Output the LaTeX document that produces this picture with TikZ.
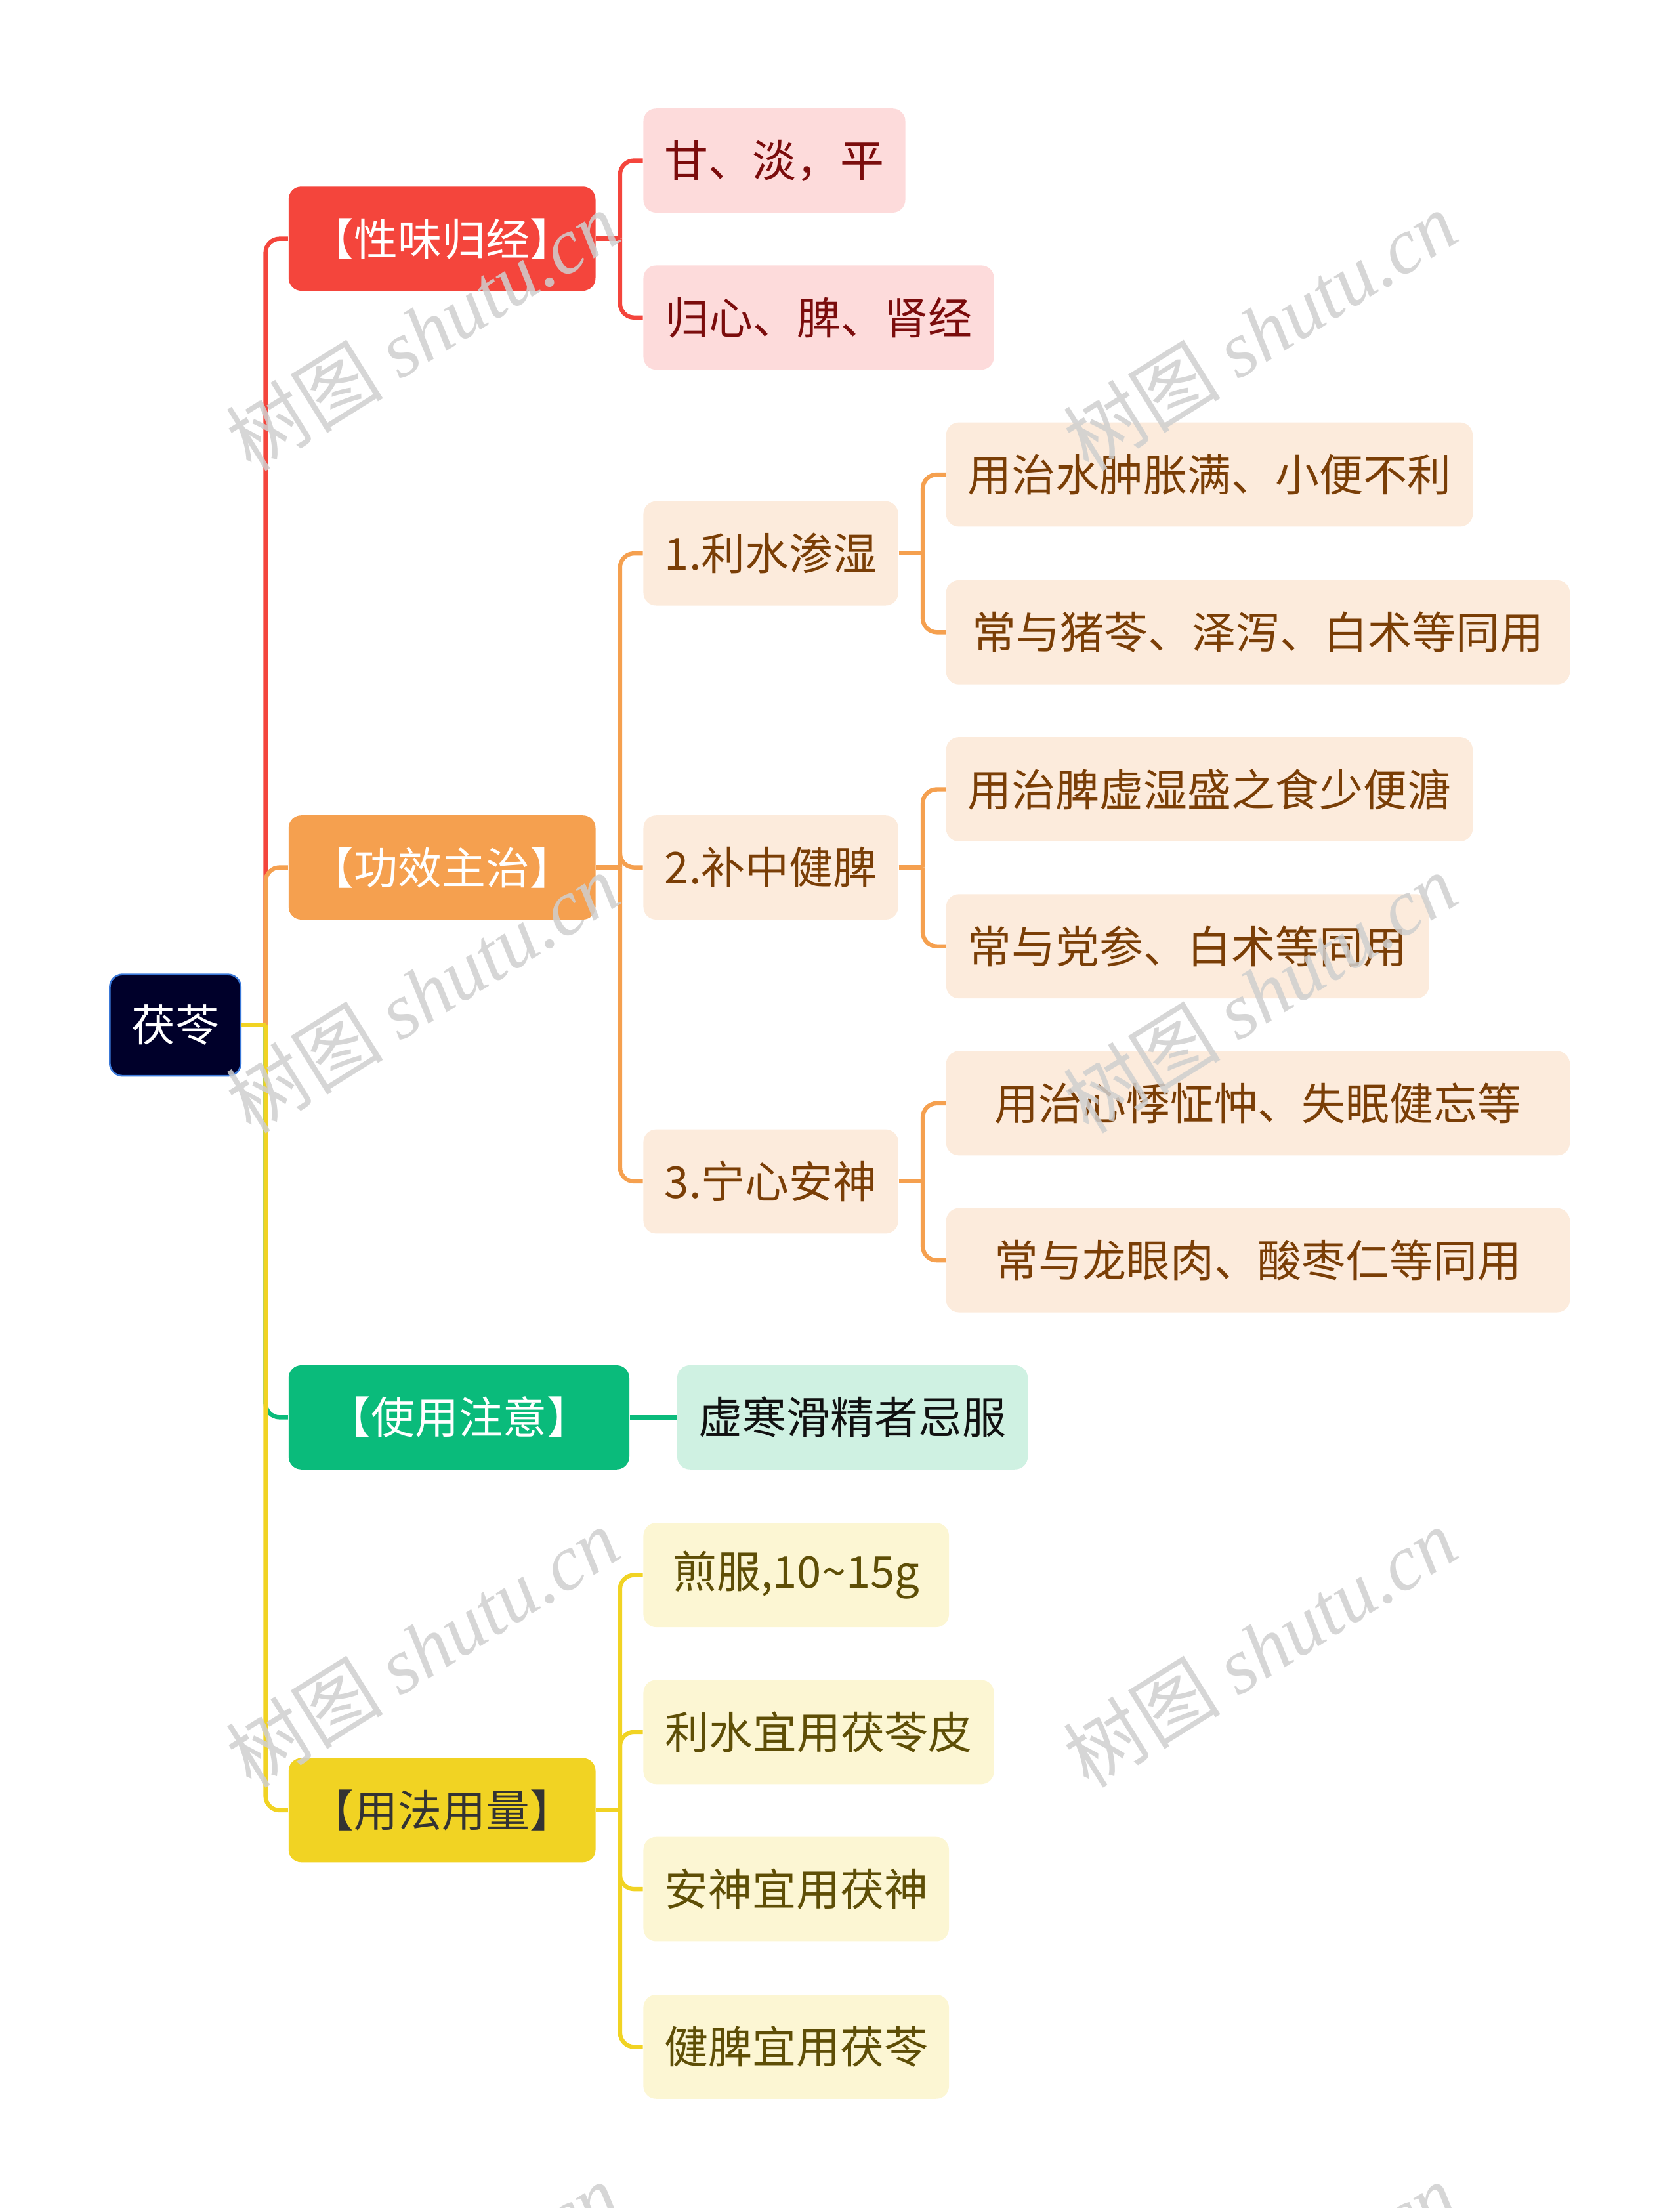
\documentclass[tikz,border=0pt]{standalone}
\usepackage{fontspec}
\setmainfont{Noto Sans CJK SC}
\newfontfamily\wmlatin{Liberation Serif}
\definecolor{rootfill}{HTML}{00002A}
\definecolor{rootdraw}{HTML}{3A78D8}
\definecolor{cred}{HTML}{F4453C}
\definecolor{credl}{HTML}{FDDBDB}
\definecolor{credt}{HTML}{7B0C0C}
\definecolor{cor}{HTML}{F5A04F}
\definecolor{corl}{HTML}{FCEBDC}
\definecolor{cort}{HTML}{7A3E06}
\definecolor{cgr}{HTML}{0ABB7B}
\definecolor{cgrl}{HTML}{CFF1E2}
\definecolor{cgrt}{HTML}{111111}
\definecolor{cye}{HTML}{F1D323}
\definecolor{cyel}{HTML}{FCF6D3}
\definecolor{cyet}{HTML}{5E4E06}
\definecolor{wmgray}{HTML}{CFCFCF}
\tikzset{
  x=0.5pt, y=-0.5pt,
  bw/.style={minimum width=#1*0.5pt},
  base/.style={rounded corners=4.5pt, minimum height=37pt, inner sep=0pt,
    font=\fontsize{15.6}{18}\selectfont, anchor=center},
  rootbox/.style={base, fill=rootfill, draw=rootdraw, line width=0.6pt, text=white,
    minimum width=46.5pt, minimum height=36pt, font=\fontsize{15.5}{18}\selectfont},
  l1red/.style={base, fill=cred, text=white},
  l2red/.style={base, fill=credl, text=credt},
  l1or/.style={base, fill=cor, text=white},
  l2or/.style={base, fill=corl, text=cort},
  l1gr/.style={base, fill=cgr, text=white},
  l2gr/.style={base, fill=cgrl, text=cgrt},
  l1ye/.style={base, fill=cye, text=black!80},
  l2ye/.style={base, fill=cyel, text=cyet},
  conn/.style={line width=1.5pt, rounded corners=5pt},
  wm/.style={text=wmgray, opacity=0.85, rotate=32, inner sep=0pt,
    font=\fontsize{28}{30}\selectfont},
}
\begin{document}
\begin{tikzpicture}
\useasboundingbox (0,0) rectangle (1193,1568);
\clip (0,0) rectangle (1193,1568);

% nodes
\node[rootbox] (root) at (124.5,728) {茯苓};
\node[l1red, bw=218] (r1) at (314,169.5) {【性味归经】};
\node[l2red, bw=186] (r1a) at (550,114) {甘、淡，平};
\node[l2red, bw=249] (r1b) at (581.5,225.5) {归心、脾、肾经};
\node[l1or, bw=218] (o1) at (314,616) {【功效主治】};
\node[l2or, bw=181] (o2a) at (547.5,393) {1.利水渗湿};
\node[l2or, bw=181] (o2b) at (547.5,616) {2.补中健脾};
\node[l2or, bw=181] (o2c) at (547.5,839) {3.宁心安神};
\node[l2or, bw=374] (o3a) at (859,337) {用治水肿胀满、小便不利};
\node[l2or, bw=443] (o3b) at (893.5,449) {常与猪苓、泽泻、白术等同用};
\node[l2or, bw=374] (o3c) at (859,560.5) {用治脾虚湿盛之食少便溏};
\node[l2or, bw=343] (o3d) at (843.5,672) {常与党参、白术等同用};
\node[l2or, bw=443] (o3e) at (893.5,783.5) {用治心悸怔忡、失眠健忘等};
\node[l2or, bw=443] (o3f) at (893.5,895) {常与龙眼肉、酸枣仁等同用};
\node[l1gr, bw=242] (g1) at (326,1006.5) {【使用注意】};
\node[l2gr, bw=249] (g2) at (605.5,1006.5) {虚寒滑精者忌服};
\node[l1ye, bw=218] (y1) at (314,1285.5) {【用法用量】};
\node[l2ye, bw=217] (y2a) at (565.5,1118.5) {煎服,10{\char"7E}15g};
\node[l2ye, bw=249] (y2b) at (581.5,1230) {利水宜用茯苓皮};
\node[l2ye, bw=217] (y2c) at (565.5,1341.5) {安神宜用茯神};
\node[l2ye, bw=217] (y2d) at (565.5,1453.5) {健脾宜用茯苓};

% junction coordinates
\coordinate (j0) at ([xshift=8.5pt]root.east);
\coordinate (jr) at ([xshift=8.5pt]r1.east);
\coordinate (jo) at ([xshift=8.5pt]o1.east);
\coordinate (joa) at ([xshift=8.5pt]o2a.east);
\coordinate (job) at ([xshift=8.5pt]o2b.east);
\coordinate (joc) at ([xshift=8.5pt]o2c.east);
\coordinate (jy) at ([xshift=8.5pt]y1.east);

% root branches
\draw[conn, cred] (j0) |- (r1.west);
\draw[conn, cor] (j0) |- (o1.west);
\draw[conn, cgr] (j0) |- (g1.west);
\draw[conn, cye] (j0) |- (y1.west);
\draw[conn, cye] (root.east) -- (j0);

% red
\draw[conn, cred] (r1.east) -- (jr);
\draw[conn, cred] (jr) |- (r1a.west);
\draw[conn, cred] (jr) |- (r1b.west);

% orange
\draw[conn, cor] (o1.east) -- (jo);
\draw[conn, cor] (jo) |- (o2a.west);
\draw[conn, cor] (jo) |- (o2b.west);
\draw[conn, cor] (jo) |- (o2c.west);
\draw[conn, cor] (o2a.east) -- (joa);
\draw[conn, cor] (joa) |- (o3a.west);
\draw[conn, cor] (joa) |- (o3b.west);
\draw[conn, cor] (o2b.east) -- (job);
\draw[conn, cor] (job) |- (o3c.west);
\draw[conn, cor] (job) |- (o3d.west);
\draw[conn, cor] (o2c.east) -- (joc);
\draw[conn, cor] (joc) |- (o3e.west);
\draw[conn, cor] (joc) |- (o3f.west);

% green
\draw[conn, cgr] (g1.east) -- (g2.west);

% yellow
\draw[conn, cye] (y1.east) -- (jy);
\draw[conn, cye] (jy) |- (y2a.west);
\draw[conn, cye] (jy) |- (y2b.west);
\draw[conn, cye] (jy) |- (y2c.west);
\draw[conn, cye] (jy) |- (y2d.west);

% watermarks
\foreach \wx/\wy [count=\i] in {300/235, 895/235, 300/705, 895/705, 300/1170, 895/1170, 300/1635, 895/1635}
  \node[wm] (wm\i) at (\wx,\wy) {树图 {\wmlatin\itshape shutu.cn}};
\end{tikzpicture}
\end{document}
